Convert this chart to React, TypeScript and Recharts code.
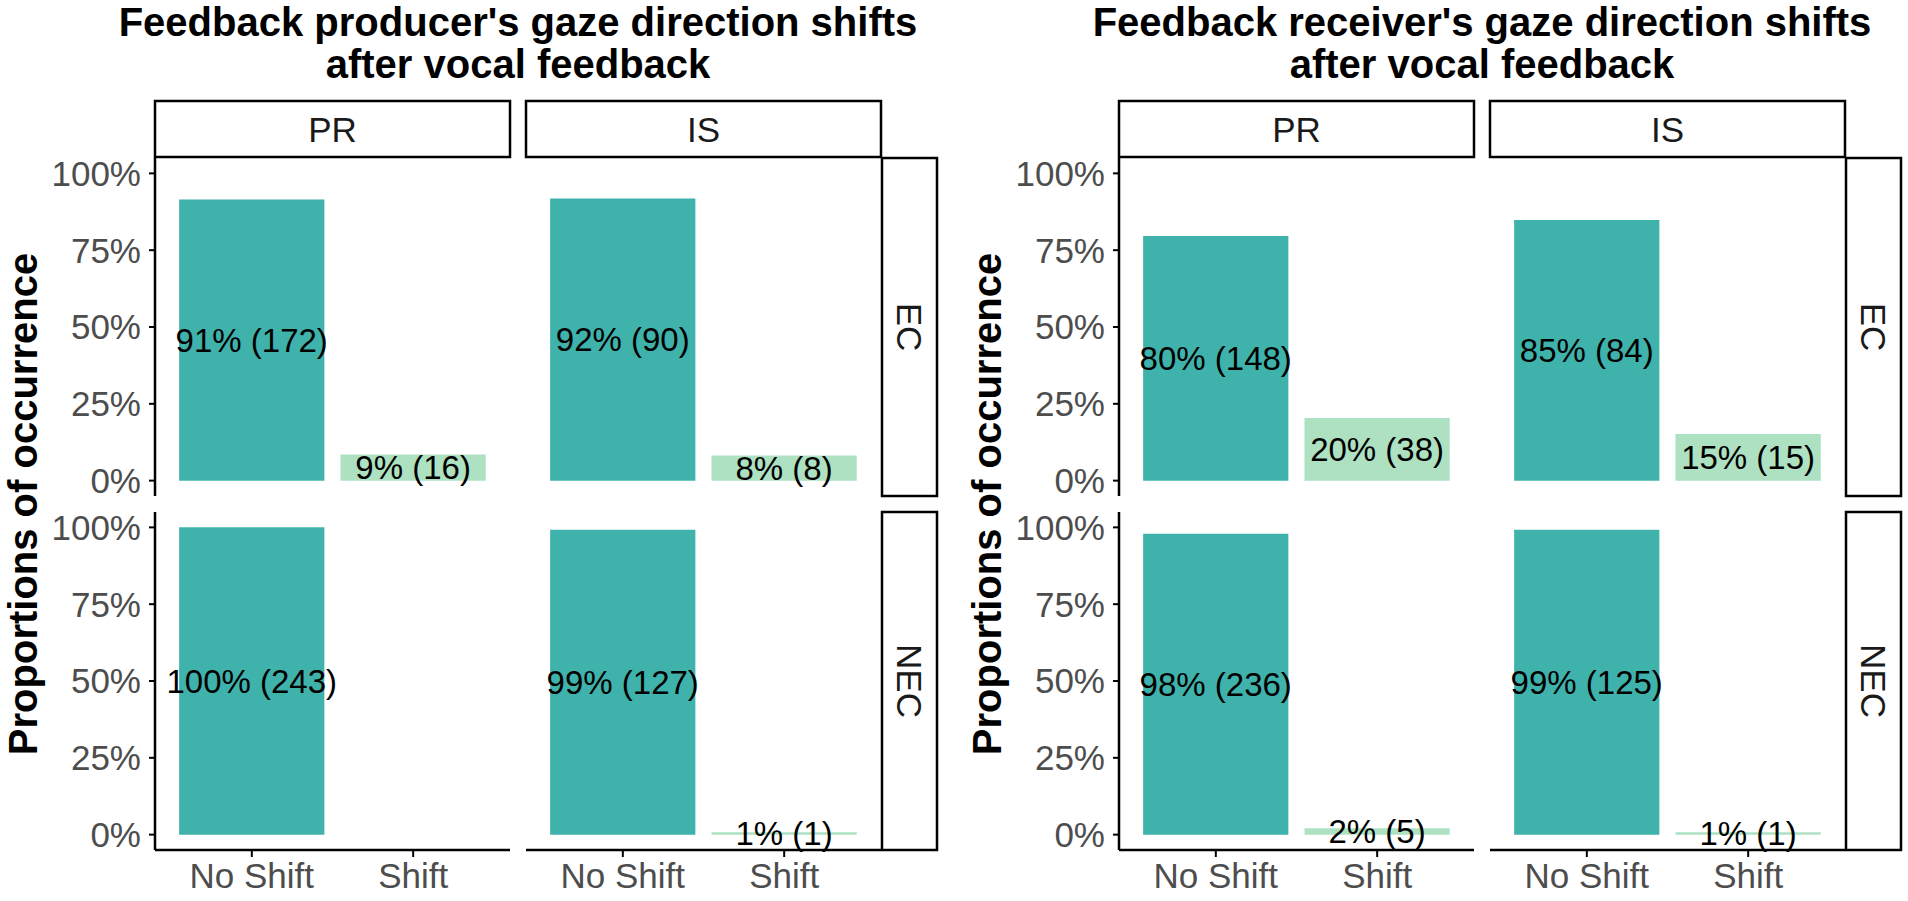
import React from "react";
import { BarChart, Bar, XAxis, YAxis, Cell, LabelList } from "recharts";

// categories and facet names
const categories = ["No Shift", "Shift"];
const columnNames = ["PR", "IS"];
const rowNames = ["EC", "NEC"];
const yTicks = [0, 0.25, 0.5, 0.75, 1];

// feedback producer
const producerEcPr = [0.915, 0.085];
const producerEcPrLabels = ["91% (172)", "9% (16)"];
const producerEcIs = [0.918, 0.082];
const producerEcIsLabels = ["92% (90)", "8% (8)"];
const producerNecPr = [1.0, 0];
const producerNecPrLabels = ["100% (243)", ""];
const producerNecIs = [0.992, 0.008];
const producerNecIsLabels = ["99% (127)", "1% (1)"];

// feedback receiver
const receiverEcPr = [0.796, 0.204];
const receiverEcPrLabels = ["80% (148)", "20% (38)"];
const receiverEcIs = [0.848, 0.152];
const receiverEcIsLabels = ["85% (84)", "15% (15)"];
const receiverNecPr = [0.979, 0.021];
const receiverNecPrLabels = ["98% (236)", "2% (5)"];
const receiverNecIs = [0.992, 0.008];
const receiverNecIsLabels = ["99% (125)", "1% (1)"];

const figures = [
  {
    title: ["Feedback producer's gaze direction shifts", "after vocal feedback"],
    panels: [
      [[producerEcPr, producerEcPrLabels], [producerEcIs, producerEcIsLabels]],
      [[producerNecPr, producerNecPrLabels], [producerNecIs, producerNecIsLabels]],
    ],
  },
  {
    title: ["Feedback receiver's gaze direction shifts", "after vocal feedback"],
    panels: [
      [[receiverEcPr, receiverEcPrLabels], [receiverEcIs, receiverEcIsLabels]],
      [[receiverNecPr, receiverNecPrLabels], [receiverNecIs, receiverNecIsLabels]],
    ],
  },
];

const barColors = ["#3FB2AB", "#ADE1C1"];
const FONT = "'Liberation Sans', Arial, Helvetica, sans-serif";

const PANEL_W = 355;
const PANEL_H = 338;
const GAP = 16;
const PANEL_LEFT = 155;
const PANEL_TOP = 158;
const FIG_OFFSET = 964;
const STRIP_H = 56;
const STRIP_W = 55;
const Y_AXIS_W = 150;
const X_AXIS_H = 60;
const PAD_V = 20; // room so edge texts are not clipped
const X_PAD = (PANEL_W / 2.2) * 0.1;
const BAR_W = (PANEL_W / 2.2) * 0.9;

function Panel({ values, labels, showY, showX, left, top }) {
  const data = categories.map((c, i) => ({ category: c, value: values[i], label: labels[i] }));
  const yW = showY ? Y_AXIS_W : 0;
  const xH = showX ? X_AXIS_H : 0;
  return (
    <div style={{ position: "absolute", left: left - yW, top: top - PAD_V }}>
      <BarChart
        width={PANEL_W + yW}
        height={PANEL_H + xH + PAD_V * 2}
        data={data}
        margin={{ top: PAD_V, right: 0, bottom: PAD_V, left: 0 }}
        style={{ fontFamily: FONT, overflow: "visible" }}
      >
        <XAxis
          dataKey="category"
          type="category"
          hide={!showX}
          height={xH}
          padding={{ left: X_PAD, right: X_PAD }}
          interval={0}
          axisLine={{ stroke: "#000", strokeWidth: 2.5 }}
          tickLine={{ stroke: "#000", strokeWidth: 2 }}
          tickSize={7}
          tickMargin={6}
          tick={{ fill: "#4d4d4d", fontSize: 35 }}
        />
        <YAxis
          type="number"
          domain={[-0.05, 1.05]}
          allowDataOverflow
          ticks={yTicks}
          interval={0}
          hide={!showY}
          width={yW}
          tickFormatter={(v) => `${Math.round(v * 100)}%`}
          axisLine={{ stroke: "#000", strokeWidth: 2.5 }}
          tickLine={{ stroke: "#000", strokeWidth: 2 }}
          tickSize={6}
          tickMargin={8}
          tick={{ fill: "#4d4d4d", fontSize: 35 }}
        />
        <Bar dataKey="value" barSize={BAR_W} isAnimationActive={false}>
          {data.map((d, i) => (
            <Cell key={d.category} fill={barColors[i]} />
          ))}
          <LabelList dataKey="label" position="center" fill="#000" fontSize={33} />
        </Bar>
      </BarChart>
    </div>
  );
}

function Decorations() {
  return (
    <svg
      width={1908}
      height={901}
      style={{ position: "absolute", left: 0, top: 0, fontFamily: FONT }}
    >
      {figures.map((fig, f) => {
        const ox = f * FIG_OFFSET;
        const cx = ox + PANEL_LEFT + (PANEL_W * 2 + GAP) / 2;
        const stripX = ox + PANEL_LEFT + PANEL_W * 2 + GAP + 1;
        return (
          <g key={f}>
            <text x={cx} y={36} textAnchor="middle" fontSize={40} fontWeight="bold" fill="#000">
              {fig.title[0]}
            </text>
            <text x={cx} y={78} textAnchor="middle" fontSize={40} fontWeight="bold" fill="#000">
              {fig.title[1]}
            </text>
            <text
              transform={`translate(${ox + 37}, 504) rotate(-90)`}
              textAnchor="middle"
              fontSize={40}
              fontWeight="bold"
              fill="#000"
            >
              Proportions of occurrence
            </text>
            {columnNames.map((name, c) => {
              const x = ox + PANEL_LEFT + c * (PANEL_W + GAP);
              return (
                <g key={name}>
                  <rect x={x} y={101} width={PANEL_W} height={STRIP_H} fill="#fff" stroke="#000" strokeWidth={2.5} />
                  <text x={x + PANEL_W / 2} y={101 + STRIP_H / 2} dy="0.36em" textAnchor="middle" fontSize={35} fill="#1a1a1a">
                    {name}
                  </text>
                </g>
              );
            })}
            {rowNames.map((name, r) => {
              const y = PANEL_TOP + r * (PANEL_H + GAP);
              return (
                <g key={name}>
                  <rect x={stripX} y={y} width={STRIP_W} height={PANEL_H} fill="#fff" stroke="#000" strokeWidth={2.5} />
                  <text
                    transform={`translate(${stripX + STRIP_W / 2}, ${y + PANEL_H / 2}) rotate(90)`}
                    dy="0.36em"
                    textAnchor="middle"
                    fontSize={35}
                    fill="#1a1a1a"
                  >
                    {name}
                  </text>
                </g>
              );
            })}
          </g>
        );
      })}
    </svg>
  );
}

export default function App() {
  return (
    <div
      style={{
        position: "absolute",
        left: 0,
        top: 0,
        width: 1908,
        height: 901,
        background: "#fff",
        fontFamily: FONT,
      }}
    >
      <Decorations />
      {figures.map((fig, f) =>
        fig.panels.map((row, r) =>
          row.map(([values, labels], c) => (
            <Panel
              key={`${f}-${r}-${c}`}
              values={values}
              labels={labels}
              showY={c === 0}
              showX={r === 1}
              left={f * FIG_OFFSET + PANEL_LEFT + c * (PANEL_W + GAP)}
              top={PANEL_TOP + r * (PANEL_H + GAP)}
            />
          ))
        )
      )}
    </div>
  );
}
